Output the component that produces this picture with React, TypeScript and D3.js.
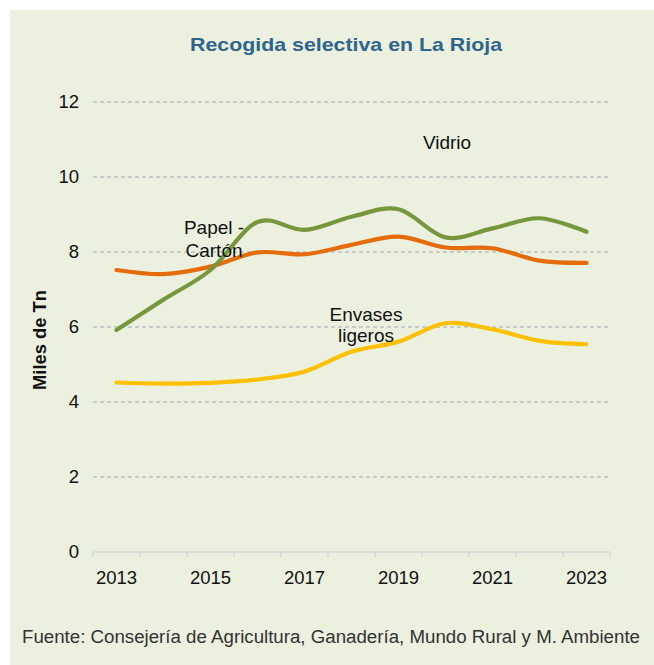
import React, { useEffect } from 'react';
import * as d3 from 'd3';

const years = [2013, 2014, 2015, 2016, 2017, 2018, 2019, 2020, 2021, 2022, 2023];
const vidrio = [5.92, 6.73, 7.52, 8.8, 8.59, 8.94, 9.14, 8.39, 8.63, 8.9, 8.54];
const papelCarton = [7.52, 7.41, 7.61, 7.99, 7.94, 8.19, 8.41, 8.12, 8.1, 7.77, 7.71];
const envases = [4.52, 4.49, 4.51, 4.6, 4.81, 5.34, 5.61, 6.1, 5.94, 5.63, 5.54];
const yTicks = [0, 2, 4, 6, 8, 10, 12];
const xLabels = [2013, 2015, 2017, 2019, 2021, 2023];

const W = 654;
const H = 665;
const FONT = '"Liberation Sans", Arial, sans-serif';

const App = () => {
    useEffect(() => {
        document.body.style.margin = '0';
    }, []);

    const x = d3.scaleBand<number>().domain(years).range([93, 610]);
    const y = d3.scaleLinear().domain([0, 12]).range([552, 102]);

    const line = d3.line<number>()
        .x((d, i) => (x(years[i]) as number) + x.bandwidth() / 2)
        .y(d => y(d))
        .curve(d3.curveCardinal.tension(0));

    const series = [
        { name: 'Papel - Cartón', values: papelCarton, color: '#E46C0A' },
        { name: 'Envases ligeros', values: envases, color: '#FFC000' },
        { name: 'Vidrio', values: vidrio, color: '#77973D' },
    ];

    // band edges for the tick marks
    const edges = years.map(yr => x(yr) as number).concat([610]);

    return (
        <svg width={W} height={H} style={{ display: 'block', fontFamily: FONT }}>
            <rect x={10} y={10} width={W - 10} height={H - 10} fill="#EBF0DF" />

            <text x={346} y={51} textAnchor="middle" fontSize={19} fontWeight="bold" fill="#2F648C"
                textLength={312} lengthAdjust="spacingAndGlyphs">
                Recogida selectiva en La Rioja
            </text>

            {/* grid */}
            {yTicks.filter(t => t > 0).map(t => (
                <line key={t} x1={93} x2={610} y1={y(t)} y2={y(t)}
                    stroke="#BFBFBF" strokeWidth={1.3} strokeDasharray="4,3" />
            ))}
            {yTicks.map(t => (
                <text key={t} x={79} y={y(t)} dy="0.35em" textAnchor="end" fontSize={18.5} fill="#111">{t}</text>
            ))}

            {/* x axis */}
            <line x1={93} x2={610} y1={y(0)} y2={y(0)} stroke="#D9D9D9" strokeWidth={1.5} />
            {edges.map((e, i) => (
                <line key={i} x1={e} x2={e} y1={y(0)} y2={y(0) + 5} stroke="#D9D9D9" strokeWidth={1.5} />
            ))}
            {xLabels.map(yr => (
                <text key={yr} x={(x(yr) as number) + x.bandwidth() / 2} y={584} textAnchor="middle" fontSize={18.5} fill="#111">{yr}</text>
            ))}

            <text transform={`translate(46, 340) rotate(-90)`} textAnchor="middle" fontSize={17.5} fontWeight="bold" fill="#111"
                textLength={100} lengthAdjust="spacingAndGlyphs">
                Miles de Tn
            </text>

            {series.map(s => (
                <path key={s.name} d={line(s.values) || ''} fill="none" stroke={s.color}
                    strokeWidth={4.2} strokeLinecap="round" />
            ))}

            {/* series labels */}
            <text x={447} y={149} textAnchor="middle" fontSize={19} fill="#111">Vidrio</text>
            <text x={214} y={234} textAnchor="middle" fontSize={19} fill="#111">
                <tspan x={214}>Papel -</tspan>
                <tspan x={214} dy={23}>Cartón</tspan>
            </text>
            <text x={366} y={321} textAnchor="middle" fontSize={19} fill="#111">
                <tspan x={366}>Envases</tspan>
                <tspan x={366} dy={21}>ligeros</tspan>
            </text>

            <text x={22} y={643} fontSize={18} fill="#333" textLength={618} lengthAdjust="spacingAndGlyphs">
                Fuente: Consejería de Agricultura, Ganadería, Mundo Rural y M. Ambiente
            </text>
        </svg>
    );
};

export default App;
